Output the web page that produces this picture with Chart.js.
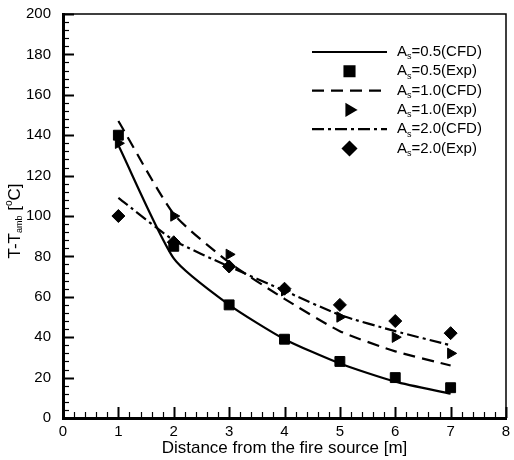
<!DOCTYPE html>
<html>
<head>
<meta charset="utf-8">
<script src="https://cdn.jsdelivr.net/npm/chart.js@4.4.1/dist/chart.umd.min.js"></script>
<style>
  html, body { margin: 0; padding: 0; background: #fff; }
  #wrap { width: 514px; height: 460px; }
</style>
</head>
<body>
<div id="wrap"><canvas id="chart" width="514" height="460"></canvas></div>
<script>
// distance from the fire source [m]
const distances = [1, 2, 3, 4, 5, 6, 7];

// CFD lines and experiment points, T - T_amb [°C]
const cfd05 = [135, 79, 56, 39, 27, 18, 12];
const exp05 = [140, 85, 56, 39, 28, 20, 15];
const cfd10 = [147, 101, 77, 59, 43, 33, 26];
const exp10 = [136, 100, 81, 63, 50, 40, 32];
const cfd20 = [109, 88, 75, 63, 51, 43, 36];
const exp20 = [100, 87, 75, 64, 56, 48, 42];

const seriesLabels = ["As=0.5(CFD)", "As=0.5(Exp)", "As=1.0(CFD)", "As=1.0(Exp)", "As=2.0(CFD)", "As=2.0(Exp)"];
const xTicks = [0, 1, 2, 3, 4, 5, 6, 7, 8];
const yTicks = [0, 20, 40, 60, 80, 100, 120, 140, 160, 180, 200];

const FONT = "'Liberation Sans', Arial, sans-serif";

const toPts = (ys) => ys.map((y, i) => ({ x: distances[i], y: y }));

function lineSet(label, ys, dash) {
  return {
    label, data: toPts(ys), showLine: true, borderColor: "#000", borderWidth: 2.2,
    borderDash: dash, pointRadius: 0, tension: 0.2, fill: false
  };
}
function pointSet(label, ys, style, r, rot) {
  return {
    label, data: toPts(ys), showLine: false, pointStyle: style, pointRadius: r,
    pointRotation: rot || 0, backgroundColor: "#000", borderColor: "#000", borderWidth: 1
  };
}

const datasets = [
  lineSet(seriesLabels[0], cfd05, []),
  pointSet(seriesLabels[1], exp05, "rect", 7),
  lineSet(seriesLabels[2], cfd10, [12, 7]),
  pointSet(seriesLabels[3], exp10, "triangle", 6, 90),
  lineSet(seriesLabels[4], cfd20, [12, 4, 3, 4]),
  pointSet(seriesLabels[5], exp20, "rectRot", 6.5)
];

// inner ticks, top/right frame, legend and y title
const decor = {
  id: "decor",
  afterDraw(chart) {
    const ctx = chart.ctx;
    const a = chart.chartArea;
    const xs = chart.scales.x, ys = chart.scales.y;
    ctx.save();
    ctx.strokeStyle = "#000";
    // frame top and right
    ctx.lineWidth = 1.5;
    ctx.beginPath();
    ctx.moveTo(a.left, a.top); ctx.lineTo(a.right, a.top); ctx.lineTo(a.right, a.bottom);
    ctx.stroke();
    // x ticks
    for (let v = 0; v <= 8.0001; v += 0.2) {
      const major = Math.abs(v - Math.round(v)) < 1e-6;
      const px = Math.round(xs.getPixelForValue(v)) + 0.5;
      ctx.lineWidth = major ? 2 : 1.2;
      ctx.beginPath();
      ctx.moveTo(px, a.bottom); ctx.lineTo(px, a.bottom - (major ? 11 : 6));
      ctx.stroke();
    }
    // y ticks
    for (let v = 0; v <= 200; v += 4) {
      const major = v % 20 === 0;
      const py = Math.round(ys.getPixelForValue(v)) + 0.5;
      ctx.lineWidth = major ? 2 : 1.2;
      ctx.beginPath();
      ctx.moveTo(a.left, py); ctx.lineTo(a.left + (major ? 11 : 6), py);
      ctx.stroke();
    }
    // legend
    const lx0 = 312, lx1 = 387, tx = 397, ly0 = 52, step = 19.3;
    chart.data.datasets.forEach((ds, i) => {
      const y = ly0 + i * step;
      if (ds.showLine) {
        ctx.lineWidth = ds.borderWidth;
        ctx.setLineDash(ds.borderDash);
        ctx.beginPath(); ctx.moveTo(lx0, y); ctx.lineTo(lx1, y); ctx.stroke();
        ctx.setLineDash([]);
      } else {
        ctx.fillStyle = "#000";
        Chart.helpers.drawPoint(ctx, { pointStyle: ds.pointStyle, radius: ds.pointRadius, rotation: ds.pointRotation, borderWidth: 1 }, (lx0 + lx1) / 2, y);
        ctx.fill();
      }
      ctx.fillStyle = "#000";
      ctx.textBaseline = "middle";
      ctx.textAlign = "left";
      ctx.font = "15px " + FONT;
      ctx.fillText("A", tx, y);
      let w = ctx.measureText("A").width;
      ctx.font = "9px " + FONT;
      ctx.fillText("s", tx + w, y + 5);
      w += ctx.measureText("s").width;
      ctx.font = "15px " + FONT;
      ctx.fillText(ds.label.slice(2), tx + w, y);
    });
    // y title: T-T_amb [°C]
    ctx.translate(15, 221);
    ctx.rotate(-Math.PI / 2);
    const parts = [["T-T", 17, 0], ["amb", 9, 5], [" [", 17, 0], ["o", 10, -6], ["C]", 17, 0]];
    let total = 0;
    parts.forEach(p => { ctx.font = p[1] + "px " + FONT; total += ctx.measureText(p[0]).width; });
    let cx = -total / 2;
    ctx.textAlign = "left";
    ctx.textBaseline = "middle";
    parts.forEach(p => {
      ctx.font = p[1] + "px " + FONT;
      ctx.fillText(p[0], cx, p[2]);
      cx += ctx.measureText(p[0]).width;
    });
    ctx.restore();
  }
};

new Chart(document.getElementById("chart"), {
  type: "scatter",
  data: { datasets },
  options: {
    responsive: false,
    animation: false,
    layout: { padding: { top: 14, right: 3, left: 0, bottom: 0 } },
    plugins: { legend: { display: false }, tooltip: { enabled: false } },
    scales: {
      x: {
        type: "linear", min: 0, max: 8,
        afterBuildTicks: (s) => { s.ticks = xTicks.map(v => ({ value: v })); },
        afterFit: (s) => { s.height = 42; s.paddingLeft = 0; s.paddingRight = 0; },
        grid: { display: false, drawTicks: false },
        border: { display: true, color: "#000", width: 3 },
        ticks: { color: "#000", font: { family: FONT, size: 15 }, padding: 5, maxRotation: 0 },
        title: { display: true, text: "Distance from the fire source [m]", color: "#000",
                 font: { family: FONT, size: 17 }, padding: { top: 0, bottom: 1 } }
      },
      y: {
        type: "linear", min: 0, max: 200,
        afterBuildTicks: (s) => { s.ticks = yTicks.map(v => ({ value: v })); },
        afterFit: (s) => { s.width = 63; s.paddingTop = 0; s.paddingBottom = 0; },
        grid: { display: false, drawTicks: false },
        border: { display: true, color: "#000", width: 3 },
        ticks: { color: "#000", font: { family: FONT, size: 15 }, padding: 12 }
      }
    }
  },
  plugins: [decor]
});
</script>
</body>
</html>
